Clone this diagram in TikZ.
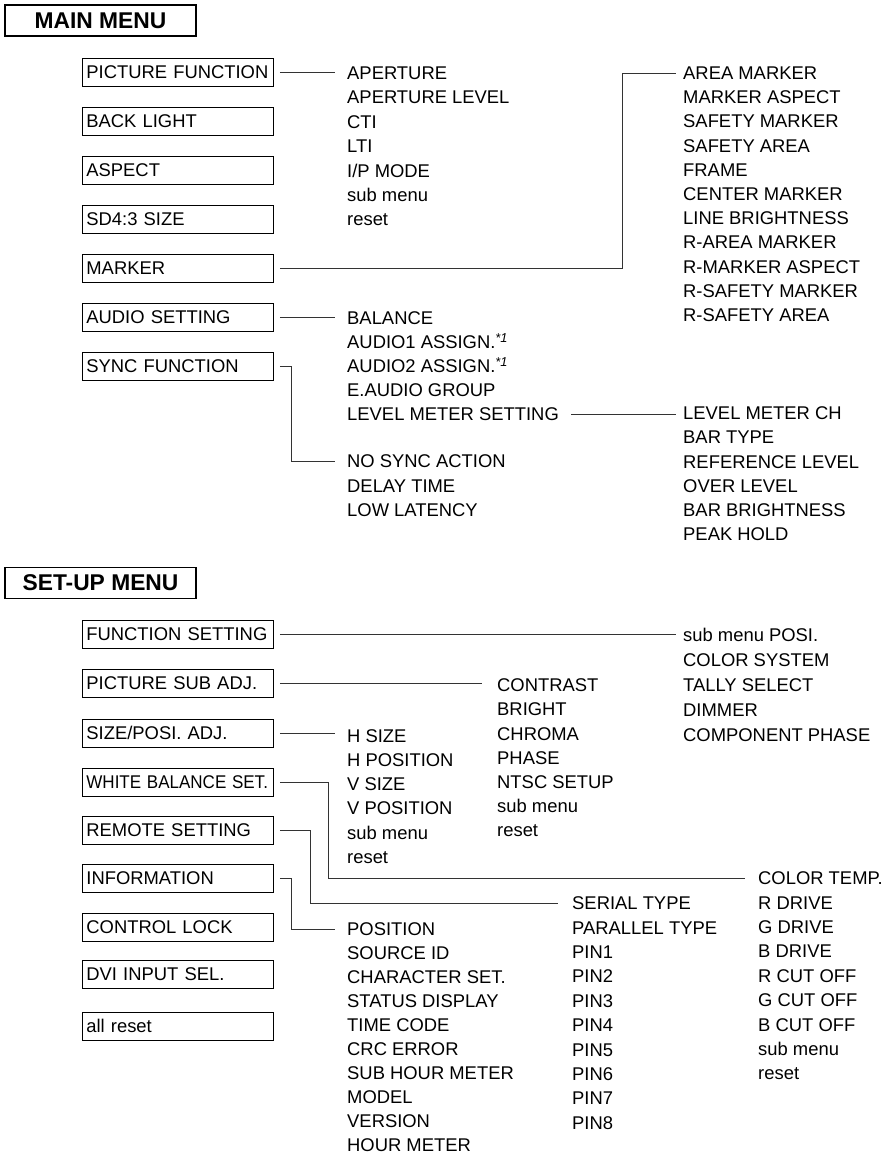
\documentclass[tikz,border=0pt]{standalone}
\usepackage{fontspec}
\usepackage{graphicx}
\setmainfont{Liberation Sans}
\usetikzlibrary{positioning}
\tikzset{
    %Define style for the two menu titles
    title/.style={
      rectangle,
      draw=black, line width=1.6pt,
      minimum width=191pt,
      minimum height=31pt,
      font=\fontsize{22.8}{26}\selectfont\bfseries},
    %Define style for menu boxes
    entry/.style={
      rectangle,
      draw=black, line width=0.8pt,
      anchor=west,
      text width=183pt,
      inner xsep=4pt,
      minimum height=28pt,
      align=left,
      text height=13.2pt, text depth=0pt,
      font=\fontsize{18.4}{22}\selectfont},
    %Define style for sub menu items
    item/.style={
      anchor=west,
      inner sep=0pt,
      text height=13.2pt, text depth=0pt,
      font=\fontsize{18.4}{22}\selectfont},
    % Define line style
    link/.style={
      draw=black!80, line width=0.8pt}
}
\newcommand{\noteone}{\textsuperscript{\textit{*1}}}

\begin{document}
\begin{tikzpicture}[x=1pt, y=-1pt]
    \useasboundingbox (0,0) rectangle (885,1155);

    % main menu
    \node[title] (main) at (100.5,20.5) {MAIN MENU};
    \node[entry] (pf) at (82,72) {PICTURE FUNCTION};
    \node[entry] (bl) at (82,121) {BACK LIGHT};
    \node[entry] (asp) at (82,170) {ASPECT};
    \node[entry] (sd) at (82,219) {SD4:3 SIZE};
    \node[entry] (mk) at (82,268) {MARKER};
    \node[entry] (as) at (82,317) {AUDIO SETTING};
    \node[entry] (sf) at (82,366) {SYNC FUNCTION};

    \foreach \t [count=\i from 0] in {APERTURE, APERTURE LEVEL, CTI, LTI,
        I/P MODE, sub menu, reset}
      \node[item] (ap-\i) at (347,{73+24.4*\i}) {\t};
    \foreach \t [count=\i from 0] in {AREA MARKER, MARKER ASPECT,
        SAFETY MARKER, SAFETY AREA, FRAME, CENTER MARKER, LINE BRIGHTNESS,
        R-AREA MARKER, R-MARKER ASPECT, R-SAFETY MARKER, R-SAFETY AREA}
      \node[item] (am-\i) at (683,{73+24.2*\i}) {\t};
    \foreach \t [count=\i from 0] in {BALANCE, AUDIO1 ASSIGN.\noteone,
        AUDIO2 ASSIGN.\noteone, E.AUDIO GROUP, LEVEL METER SETTING}
      \node[item] (au-\i) at (347,{318+24*\i}) {\t};
    \foreach \t [count=\i from 0] in {NO SYNC ACTION, DELAY TIME, LOW LATENCY}
      \node[item] (ns-\i) at (347,{461+24.5*\i}) {\t};
    \foreach \t [count=\i from 0] in {LEVEL METER CH, BAR TYPE,
        REFERENCE LEVEL, OVER LEVEL, BAR BRIGHTNESS, PEAK HOLD}
      \node[item] (lm-\i) at (683,{413+24.2*\i}) {\t};

    \coordinate (mk-bend) at (622,72);
    \draw[link] ([xshift=6pt]pf.east) -- ([xshift=-12pt]ap-0.west |- pf.east);
    \draw[link] ([xshift=6pt]mk.east) -| (mk-bend |- am-0.west)
      -- ([xshift=-7pt]am-0.west);
    \draw[link] ([xshift=6pt]as.east) -- ([xshift=-12pt]au-0.west |- as.east);
    \draw[link] ([xshift=6pt]sf.east) -- ++(12,0) |- ([xshift=-12pt]ns-0.west);
    \draw[link] ([xshift=12pt]au-4.east) -- ([xshift=-7pt]lm-0.west |- au-4.east);

    % set-up menu
    \node[title] (setup) at (100.5,583) {SET-UP MENU};
    \node[entry] (fs) at (82,634) {FUNCTION SETTING};
    \node[entry] (psa) at (82,683) {PICTURE SUB ADJ.};
    \node[entry] (sp) at (82,733) {SIZE/POSI. ADJ.};
    \node[entry] (wb) at (82,782) {\scalebox{0.925}[1]{WHITE BALANCE SET.}};
    \node[entry] (rs) at (82,830) {REMOTE SETTING};
    \node[entry] (inf) at (82,878) {INFORMATION};
    \node[entry] (cl) at (82,927) {CONTROL LOCK};
    \node[entry] (dvi) at (82,974) {DVI INPUT SEL.};
    \node[entry] (ar) at (82,1026) {all reset};

    \foreach \t [count=\i from 0] in {sub menu POSI., COLOR SYSTEM,
        TALLY SELECT, DIMMER, COMPONENT PHASE}
      \node[item] (fs-\i) at (683,{635+24.9*\i}) {\t};
    \foreach \t [count=\i from 0] in {CONTRAST, BRIGHT, CHROMA, PHASE,
        NTSC SETUP, sub menu, reset}
      \node[item] (ct-\i) at (497,{685+24.2*\i}) {\t};
    \foreach \t [count=\i from 0] in {H SIZE, H POSITION, V SIZE,
        V POSITION, sub menu, reset}
      \node[item] (hs-\i) at (347,{736+24.1*\i}) {\t};
    \foreach \t [count=\i from 0] in {COLOR TEMP., R DRIVE, G DRIVE, B DRIVE,
        R CUT OFF, G CUT OFF, B CUT OFF, sub menu, reset}
      \node[item] (tmp-\i) at (758,{878+24.4*\i}) {\t};
    \foreach \t [count=\i from 0] in {SERIAL TYPE, PARALLEL TYPE, PIN1, PIN2,
        PIN3, PIN4, PIN5, PIN6, PIN7, PIN8}
      \node[item] (ser-\i) at (572,{903+24.4*\i}) {\t};
    \foreach \t [count=\i from 0] in {POSITION, SOURCE ID, CHARACTER SET.,
        STATUS DISPLAY, TIME CODE, CRC ERROR, SUB HOUR METER, MODEL,
        VERSION, HOUR METER}
      \node[item] (pos-\i) at (347,{929+24*\i}) {\t};

    \draw[link] ([xshift=6pt]fs.east) -- ([xshift=-7pt]fs-0.west |- fs.east);
    \draw[link] ([xshift=6pt]psa.east) -- ([xshift=-15pt]ct-0.west |- psa.east);
    \draw[link] ([xshift=6pt]sp.east) -- ([xshift=-12pt]hs-0.west |- sp.east);
    \draw[link] ([xshift=6pt]wb.east) -- ++(49,0) |- ([xshift=-13pt]tmp-0.west);
    \draw[link] ([xshift=6pt]rs.east) -- ++(31,0) |- ([xshift=-14pt]ser-0.west);
    \draw[link] ([xshift=6pt]inf.east) -- ++(12,0) |- ([xshift=-12pt]pos-0.west);
\end{tikzpicture}
\end{document}
